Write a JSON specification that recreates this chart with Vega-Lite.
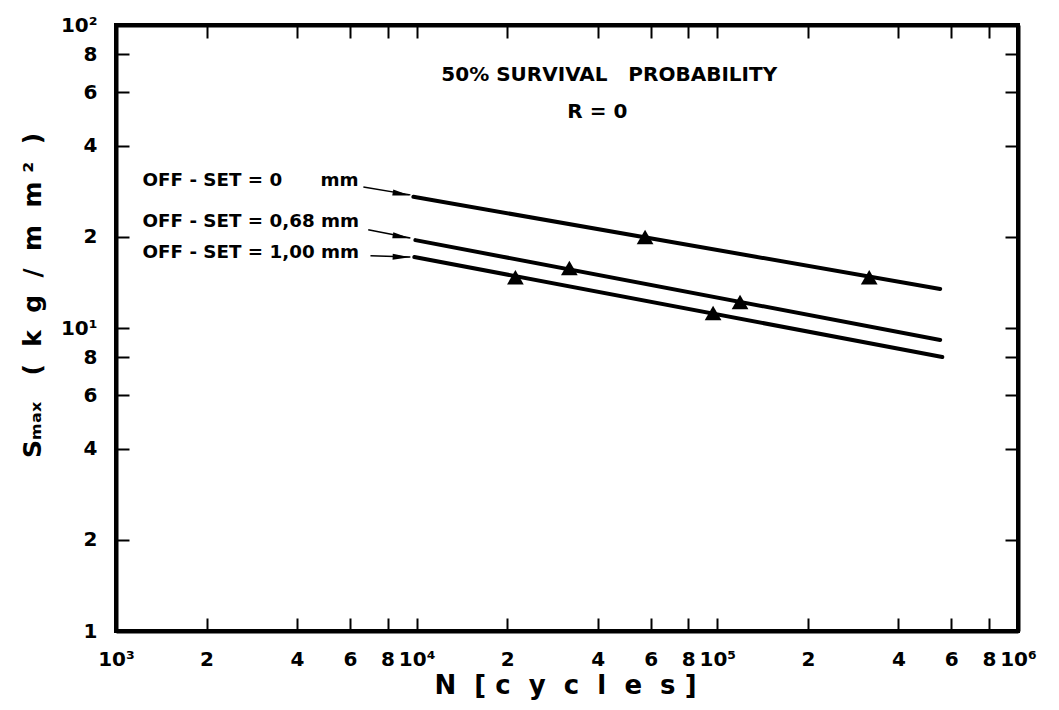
{
  "$schema": "https://vega.github.io/schema/vega-lite/v6.json",
  "width": 902,
  "height": 606,
  "autosize": "none",
  "padding": {"left": 116, "top": 25, "right": 41, "bottom": 79},
  "background": "white",
  "config": {
    "view": {"stroke": "black", "strokeWidth": 4},
    "font": "DejaVu Sans",
    "axis": {
      "grid": false,
      "domainColor": "black",
      "domainWidth": 4,
      "tickColor": "black",
      "tickWidth": 2,
      "labelColor": "black",
      "labelFont": "DejaVu Sans",
      "labelFontWeight": "bold",
      "labelFontSize": 20,
      "titleFont": "DejaVu Sans",
      "titleFontWeight": "bold",
      "titleFontSize": 22,
      "titleColor": "black"
    }
  },
  "datasets": {
    "lines": [
      {"offset": "0", "N": 9750, "S": 27.1},
      {"offset": "0", "N": 551000, "S": 13.45},
      {"offset": "0,68", "N": 9900, "S": 19.5},
      {"offset": "0,68", "N": 551000, "S": 9.13},
      {"offset": "1,00", "N": 9820, "S": 17.15},
      {"offset": "1,00", "N": 560000, "S": 8.02}
    ],
    "points": [
      {"offset": "0", "N": 57500, "S": 19.96},
      {"offset": "0", "N": 320000, "S": 14.7},
      {"offset": "0,68", "N": 32200, "S": 15.78},
      {"offset": "0,68", "N": 119000, "S": 12.19},
      {"offset": "1,00", "N": 21300, "S": 14.7},
      {"offset": "1,00", "N": 96800, "S": 11.2}
    ],
    "leaders": [
      {"offset": "0", "N": 6650, "S": 29.2},
      {"offset": "0", "N": 9530, "S": 27.5},
      {"offset": "0,68", "N": 6900, "S": 21.1},
      {"offset": "0,68", "N": 9530, "S": 19.8},
      {"offset": "1,00", "N": 7020, "S": 17.3},
      {"offset": "1,00", "N": 9530, "S": 17.15}
    ],
    "arrows": [
      {"offset": "0", "N": 8890, "S": 27.7},
      {"offset": "0,68", "N": 8890, "S": 20.0},
      {"offset": "1,00", "N": 8890, "S": 17.15}
    ],
    "labels": [
      {"label": "OFF - SET = 0\u00a0\u00a0\u00a0\u00a0\u00a0\u00a0mm", "N": 1225, "S": 30.6},
      {"label": "OFF - SET = 0,68 mm", "N": 1225, "S": 22.4},
      {"label": "OFF - SET = 1,00 mm", "N": 1225, "S": 17.7}
    ],
    "notes": [
      {"label": "50% SURVIVAL\u00a0\u00a0 PROBABILITY", "N": 43700, "S": 68.4},
      {"label": "R = 0", "N": 39900, "S": 51.6}
    ]
  },
  "resolve": {"axis": {"x": "independent", "y": "independent"}},
  "layer": [
    {
      "data": {"name": "lines"},
      "mark": {"type": "line", "color": "black", "strokeWidth": 4, "strokeCap": "round"},
      "encoding": {
        "x": {
          "field": "N", "type": "quantitative",
          "scale": {"type": "log", "domain": [1000, 1000000], "nice": false},
          "axis": {
            "orient": "bottom",
            "values": [1000, 2000, 4000, 6000, 8000, 10000, 20000, 40000, 60000, 80000, 100000, 200000, 400000, 600000, 800000, 1000000],
            "labelExpr": "datum.value==1000?'10³':datum.value==10000?'10⁴':datum.value==100000?'10⁵':datum.value==1000000?'10⁶':substring(toString(datum.value),0,1)",
            "tickSize": -13,
            "labelPadding": 31,
            "labelFlush": false,
            "labelOverlap": false,
            "title": "N\u00a0\u00a0[\u00a0c\u00a0\u00a0y\u00a0\u00a0c\u00a0\u00a0l\u00a0\u00a0e\u00a0\u00a0s\u00a0]",
            "titleFontSize": 26,
            "titleX": 449,
            "titlePadding": 3
          }
        },
        "y": {
          "field": "S", "type": "quantitative",
          "scale": {"type": "log", "domain": [1, 100], "nice": false},
          "axis": {
            "orient": "left",
            "values": [1, 2, 4, 6, 8, 10, 20, 40, 60, 80, 100],
            "labelExpr": "datum.value==10?'10¹':datum.value==100?'10²':substring(toString(datum.value),0,1)",
            "tickSize": -13,
            "labelPadding": 32,
            "labelFlush": false,
            "labelOverlap": false,
            "title": "Sₘₐₓ\u00a0\u00a0\u00a0(\u00a0\u00a0k\u00a0\u00a0g\u00a0\u00a0/\u00a0\u00a0m\u00a0\u00a0m\u00a0²\u00a0\u00a0)",
            "titleFontSize": 25,
            "titleX": -84,
            "titleY": 270,
            "titleBaseline": "middle",
            "titleAlign": "center",
            "titleAngle": -90
          }
        },
        "detail": {"field": "offset"}
      }
    },
    {
      "data": {"name": "points"},
      "mark": {"type": "point", "shape": "triangle-up", "filled": true, "color": "black", "opacity": 1, "size": 280},
      "encoding": {
        "x": {
          "field": "N", "type": "quantitative",
          "scale": {"type": "log", "domain": [1000, 1000000], "nice": false},
          "axis": {
            "orient": "top",
            "values": [2000, 4000, 6000, 8000, 10000, 20000, 40000, 60000, 80000, 100000, 200000, 400000, 600000, 800000],
            "labels": false,
            "tickSize": -13,
            "title": null
          }
        },
        "y": {
          "field": "S", "type": "quantitative",
          "scale": {"type": "log", "domain": [1, 100], "nice": false},
          "axis": {
            "orient": "right",
            "values": [2, 4, 6, 8, 10, 20, 40, 60, 80],
            "labels": false,
            "tickSize": -13,
            "title": null
          }
        }
      }
    },
    {
      "data": {"name": "leaders"},
      "mark": {"type": "line", "color": "black", "strokeWidth": 1.5},
      "encoding": {
        "x": {"field": "N", "type": "quantitative", "scale": {"type": "log", "domain": [1000, 1000000], "nice": false}, "axis": null},
        "y": {"field": "S", "type": "quantitative", "scale": {"type": "log", "domain": [1, 100], "nice": false}, "axis": null},
        "detail": {"field": "offset"}
      }
    },
    {
      "data": {"name": "arrows"},
      "mark": {"type": "point", "shape": "M -1 -0.35 L 1 0 L -1 0.35 Z", "filled": true, "color": "black", "opacity": 1, "size": 300},
      "encoding": {
        "x": {"field": "N", "type": "quantitative", "scale": {"type": "log", "domain": [1000, 1000000], "nice": false}, "axis": null},
        "y": {"field": "S", "type": "quantitative", "scale": {"type": "log", "domain": [1, 100], "nice": false}, "axis": null},
        "angle": {"condition": {"test": "datum.offset == '1,00'", "value": 2}, "value": 10}
      }
    },
    {
      "data": {"name": "labels"},
      "mark": {"type": "text", "align": "left", "baseline": "middle", "font": "DejaVu Sans", "fontSize": 18.3, "fontWeight": "bold", "color": "black"},
      "encoding": {
        "x": {"field": "N", "type": "quantitative", "scale": {"type": "log", "domain": [1000, 1000000], "nice": false}, "axis": null},
        "y": {"field": "S", "type": "quantitative", "scale": {"type": "log", "domain": [1, 100], "nice": false}, "axis": null},
        "text": {"field": "label"}
      }
    },
    {
      "data": {"name": "notes"},
      "mark": {"type": "text", "align": "center", "baseline": "middle", "font": "DejaVu Sans", "fontSize": 20, "fontWeight": "bold", "color": "black"},
      "encoding": {
        "x": {"field": "N", "type": "quantitative", "scale": {"type": "log", "domain": [1000, 1000000], "nice": false}, "axis": null},
        "y": {"field": "S", "type": "quantitative", "scale": {"type": "log", "domain": [1, 100], "nice": false}, "axis": null},
        "text": {"field": "label"}
      }
    }
  ]
}
